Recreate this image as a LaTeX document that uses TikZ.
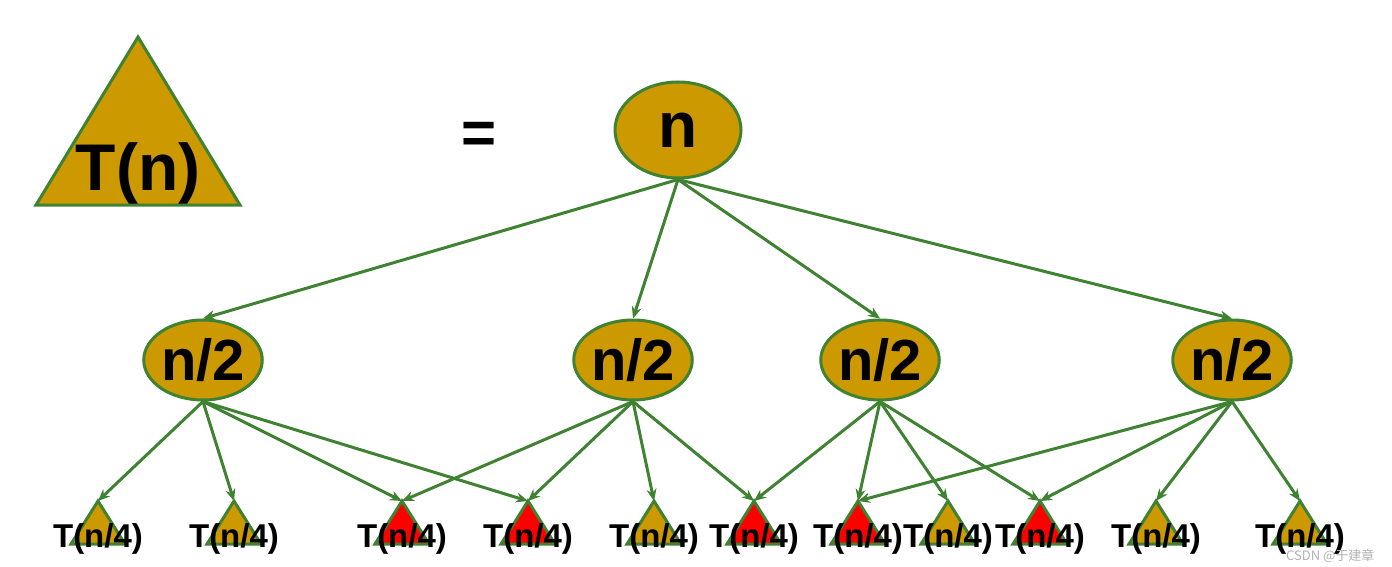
\documentclass[tikz,border=0pt]{standalone}
\usepackage{fontspec}
\setmainfont{Liberation Sans}
\newfontfamily\cjk{Noto Sans CJK SC}
\usetikzlibrary{arrows.meta,shapes.geometric}
\definecolor{gold}{HTML}{CC9900}
\definecolor{grn}{HTML}{3E8232}
\tikzset{
  ell/.style={ellipse,draw=grn,line width=3pt,fill=gold,minimum width=106pt,minimum height=80pt,inner sep=0pt,font=\bfseries\fontsize{58}{58}\selectfont},
  edge/.style={draw=grn,line width=3pt,-{Stealth[length=12pt,width=10pt]}},
  lbl/.style={font=\bfseries\fontsize{33}{33}\selectfont,inner sep=0pt,anchor=base}
}
\begin{document}
\begin{tikzpicture}[x=1pt,y=-1pt]
\useasboundingbox (0,0) rectangle (1392,567);
\filldraw[draw=grn,fill=gold,line width=3pt] (138,37) -- (240,205) -- (36,205) -- cycle;
\node[font=\bfseries\fontsize{66}{66}\selectfont,anchor=base] (tn) at (138,190) {T(n)};
\node[font=\bfseries\fontsize{60}{60}\selectfont] (eq) at (479,138) {=};
\node[ell,minimum width=126pt,minimum height=96pt,font=\bfseries\fontsize{64}{64}\selectfont] (r) at (678,130) {\raisebox{-6pt}{n}};
\foreach \i/\x in {1/203,2/633,3/880,4/1232}{
  \node[ell] (m\i) at (\x,360) {\raisebox{-3pt}{n/2}};
}
\foreach \i/\x/\c in {1/98/gold,2/234/gold,3/402/red,4/528/red,5/654/gold,6/754/red,7/858/red,8/948/gold,9/1040/red,10/1156/gold,11/1300/gold}{
  \filldraw[draw=grn,fill=\c,line width=3pt] (\x,501) -- (\x+27,544) -- (\x-27,544) -- cycle;
  \coordinate (t\i) at (\x,501);
  \node[lbl] (l\i) at (\x,547) {T(n/4)};
}
\foreach \i in {1,2,3,4}{ \draw[edge] (r.south) -- (m\i.north); }
\foreach \a/\b in {1/1,1/2,1/3,1/4,2/3,2/4,2/5,2/6,3/6,3/7,3/8,3/9,4/7,4/9,4/10,4/11}{
  \draw[edge] (m\a.south) -- (t\b);
}
\node[font=\cjk\fontsize{13}{13}\selectfont,text=gray!60,anchor=base east] (wm) at (1378,560) {CSDN @于建章};
\end{tikzpicture}
\end{document}
